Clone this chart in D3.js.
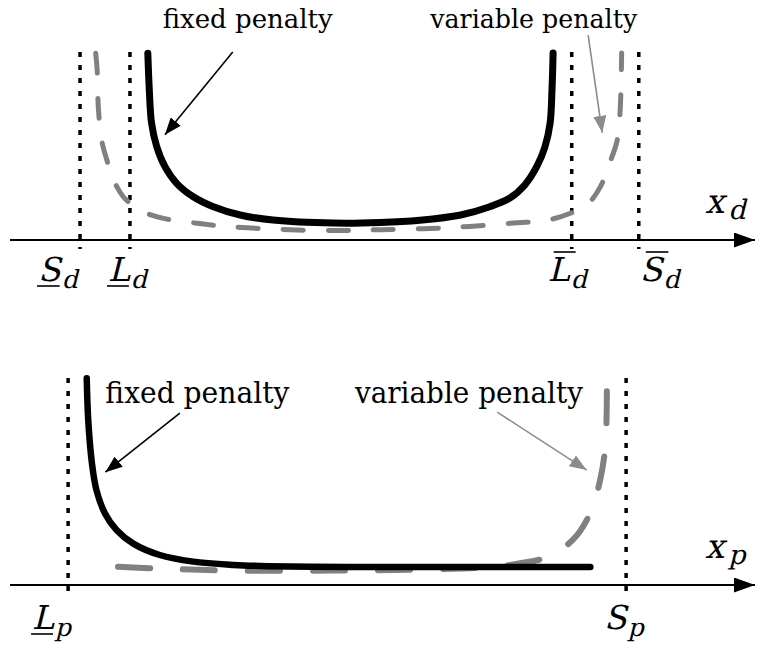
<!DOCTYPE html>
<html lang="en">
<head>
<meta charset="utf-8">
<title>penalty functions</title>
<style>
  body { margin: 0; background: #fff; }
  svg { display: block; }
</style>
</head>
<body>
<script src="https://d3js.org/d3.v7.min.js"></script>
<svg width="760" height="646" font-family="'DejaVu Serif', serif"></svg>
<script>
// ---- panel 1 : x_d ----
var dBounds     = [9.4, 16.1, 75.4, 84.4];
var dBoundNames = ["S", "L", "L", "S"];
var dBoundBars  = ["under", "under", "over", "over"];

var dFixedX = [18.5, 18.7, 19.0, 19.7, 20.8, 22.4, 24.6, 27.3, 30.9, 35.3, 43.4, 49.7, 55.0, 60.5, 64.4, 67.1, 69.1, 70.7, 71.8, 72.5, 72.75, 72.9];
var dFixedY = [9.93, 7.98, 6.22, 4.96, 3.9, 3.0, 2.3, 1.77, 1.33, 1.06, 0.9, 0.93, 1.05, 1.33, 1.77, 2.23, 2.93, 3.9, 4.95, 6.22, 7.98, 9.95];

var dVarX = [11.5, 11.7, 11.85, 12.3, 13.0, 13.9, 15.2, 16.1, 17.9, 20.6, 25.1, 29.5, 35.8, 43.4, 49.7, 58.7, 67.5, 72.1, 75.4, 77.4, 79.2, 80.5, 81.5, 81.9, 82.1];
var dVarY = [9.93, 9.04, 7.09, 5.32, 4.26, 3.19, 2.3, 1.97, 1.5, 1.15, 0.89, 0.71, 0.57, 0.5, 0.55, 0.65, 0.9, 1.05, 1.45, 1.85, 2.8, 4.1, 5.3, 6.9, 9.95];

// ---- panel 2 : x_p ----
var pBounds     = [7.8, 82.7];
var pBoundNames = ["L", "S"];
var pBoundBars  = ["under", "none"];

var pFixedX = [10.3, 10.5, 11.0, 11.6, 12.75, 14.3, 16.55, 20.1, 24.6, 30.0, 33.6, 49.7, 77.9];
var pFixedY = [9.99, 7.97, 5.88, 4.59, 3.46, 2.66, 2.0, 1.45, 1.13, 0.97, 0.92, 0.87, 0.87];

var pVarX = [14.5, 19.7, 29.9, 43.4, 55.0, 64.0, 68.5, 72.1, 75.6, 77.9, 79.2, 79.9, 80.1, 80.1];
var pVarY = [0.88, 0.8, 0.7, 0.7, 0.75, 0.85, 1.05, 1.35, 2.2, 3.5, 5.05, 6.65, 8.6, 10.05];

var labels = ["fixed penalty", "variable penalty"];

var svg = d3.select("svg");

// arrow heads
var defs = svg.append("defs");
function head(id, col, len, wid) {
  defs.append("marker")
    .attr("id", id)
    .attr("markerUnits", "userSpaceOnUse")
    .attr("viewBox", "0 0 " + len + " " + wid)
    .attr("refX", len).attr("refY", wid / 2)
    .attr("markerWidth", len).attr("markerHeight", wid)
    .attr("orient", "auto")
    .append("path")
    .attr("d", "M0,0L" + len + "," + (wid / 2) + "L0," + wid + "Z")
    .attr("fill", col);
}
head("blk", "#000", 17, 13);
head("gry", "#8c8c8c", 17, 13);
head("axis", "#000", 21, 15);

// slanted serif for the math symbols (no serif italic face here)
function mathText(g, px, py, size, str) {
  var t = g.append("g")
    .attr("transform", "translate(" + px + "," + py + ") skewX(-14)")
    .append("text")
    .attr("font-size", size)
    .text(str);
  return t.node().getComputedTextLength();
}

var x = d3.scaleLinear().domain([0, 100]).range([10, 755]);

function panel(cfg) {
  var y = d3.scaleLinear().domain([0, 10]).range([cfg.y0, cfg.y1]);
  var g = svg.append("g");
  var line = d3.line()
    .x(function (d) { return x(d[0]); })
    .y(function (d) { return y(d[1]); })
    .curve(d3.curveCatmullRom.alpha(0.5));

  // bound markers (dotted)
  g.selectAll(".bound").data(cfg.bounds).enter().append("line")
    .attr("x1", function (d) { return x(d); }).attr("x2", function (d) { return x(d); })
    .attr("y1", y(10)).attr("y2", cfg.y0 + 9)
    .attr("stroke", "#000").attr("stroke-width", 3.5)
    .attr("stroke-dasharray", "5 8");

  // axis
  g.append("line")
    .attr("x1", x(0)).attr("x2", x(100))
    .attr("y1", cfg.y0).attr("y2", cfg.y0)
    .attr("stroke", "#000").attr("stroke-width", 2)
    .attr("marker-end", "url(#axis)");

  // variable penalty (grey dashed)
  g.append("path")
    .datum(d3.zip(cfg.varX, cfg.varY))
    .attr("d", line)
    .attr("fill", "none").attr("stroke", "#808080")
    .attr("stroke-width", cfg.dashW).attr("stroke-linecap", "round")
    .attr("stroke-dasharray", cfg.dash);

  // fixed penalty (black)
  g.append("path")
    .datum(d3.zip(cfg.fixX, cfg.fixY))
    .attr("d", line)
    .attr("fill", "none").attr("stroke", "#000")
    .attr("stroke-width", cfg.fixW).attr("stroke-linecap", "round");

  // annotations
  cfg.notes.forEach(function (n, i) {
    g.append("text")
      .attr("x", x(n.tx)).attr("y", y(n.ty))
      .attr("font-size", cfg.noteSize)
      .attr("textLength", n.len).attr("lengthAdjust", "spacingAndGlyphs")
      .text(labels[i]);
    g.append("line")
      .attr("x1", x(n.a[0])).attr("y1", y(n.a[1]))
      .attr("x2", x(n.b[0])).attr("y2", y(n.b[1]))
      .attr("stroke", i === 0 ? "#000" : "#8c8c8c").attr("stroke-width", 1.6)
      .attr("marker-end", i === 0 ? "url(#blk)" : "url(#gry)");
  });

  // bound labels
  cfg.bounds.forEach(function (b, i) {
    var lx = x(b) + cfg.lblDx[i];
    var w = mathText(g, lx, cfg.lblY, 33, cfg.names[i]);
    if (cfg.bars[i] !== "none") {
      var ly = cfg.bars[i] === "under" ? cfg.lblY + 5 : cfg.lblY - 29;
      var sh = cfg.bars[i] === "under" ? -1 : 6;
      g.append("line")
        .attr("x1", lx + sh).attr("x2", lx + sh + w)
        .attr("y1", ly).attr("y2", ly)
        .attr("stroke", "#000").attr("stroke-width", 1.6);
    }
    mathText(g, lx + w + 1, cfg.lblY + 7, 25, cfg.sub);
  });

  // axis name
  var aw = mathText(g, 705, cfg.y0 - 27, 34, "x");
  mathText(g, 705 + aw + 4, cfg.y0 - 21, 27, cfg.sub);
}

panel({
  y0: 240, y1: 52,
  bounds: dBounds, names: dBoundNames, bars: dBoundBars, sub: "d",
  lblDx: [-42, -22, -24, 1], lblY: 281,
  fixX: dFixedX, fixY: dFixedY, varX: dVarX, varY: dVarY,
  fixW: 7, dashW: 5, dash: "20 25",
  noteSize: 26,
  notes: [
    { tx: 20.5, ty: 11.3, len: 170, a: [29.9, 10.0], b: [20.8, 5.6] },
    { tx: 56.4, ty: 11.3, len: 207, a: [77.6, 10.9], b: [79.5, 5.7] }
  ]
});

panel({
  y0: 585, y1: 378,
  bounds: pBounds, names: pBoundNames, bars: pBoundBars, sub: "p",
  lblDx: [-36, -22], lblY: 629,
  fixX: pFixedX, fixY: pFixedY, varX: pVarX, varY: pVarY,
  fixW: 6.5, dashW: 6, dash: "32 33",
  noteSize: 29,
  notes: [
    { tx: 12.8, ty: 8.8, len: 184, a: [22.8, 8.3], b: [12.8, 5.45] },
    { tx: 46.3, ty: 8.8, len: 228, a: [65.4, 8.35], b: [77.4, 5.55] }
  ]
});
</script>
</body>
</html>
